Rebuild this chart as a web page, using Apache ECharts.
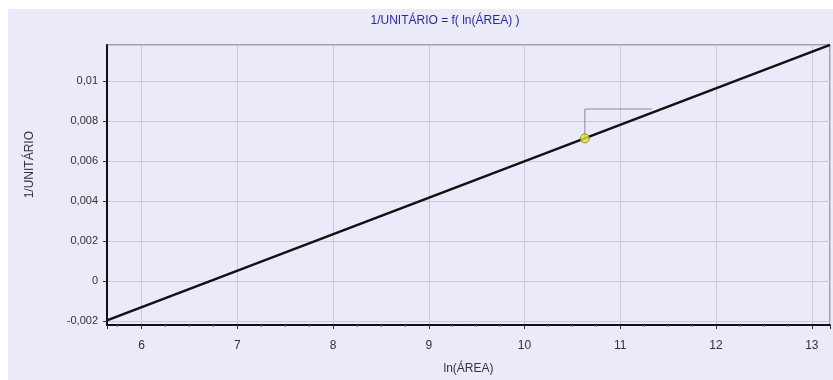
<!DOCTYPE html>
<html>
<head>
<meta charset="utf-8">
<script src="https://cdn.jsdelivr.net/npm/echarts@6/dist/echarts.min.js"></script>
<style>
  html, body { margin: 0; padding: 0; background: #ffffff; }
  #chart { position: absolute; left: 8px; top: 9px; width: 825px; height: 371px; }
</style>
</head>
<body>
<div id="chart"></div>
<script>
// Fitted relation 1/UNITÁRIO versus ln(ÁREA)
const lnArea = [5.64, 13.19];
const invUnit = [-0.00197, 0.01181];

// Highlighted observation and its leader bracket
const pointX = [10.63];
const pointY = [0.00713];
const bracketX = [10.63, 10.63, 11.33];
const bracketY = [0.00713, 0.0086, 0.0086];

const xMin = 5.64, xMax = 13.19;
const yMin = -0.0022, yMax = 0.0118;

const fmt = v => {
  if (Math.abs(v) < 1e-12) return '0';
  return String(+v.toFixed(4)).replace('.', ',');
};

const zip = (a, b) => a.map((v, i) => [v, b[i]]);

const chart = echarts.init(document.getElementById('chart'));
const font = '"Liberation Sans Narrow", "Liberation Sans", Arial, sans-serif';

chart.setOption({
  backgroundColor: '#eaeaf8',
  animation: false,
  textStyle: { fontFamily: font },
  title: {
    text: '1/UNITÁRIO = f( ln(ÁREA) )',
    left: 432, top: 1, textAlign: 'center',
    textStyle: { fontSize: 12, fontWeight: 'normal', color: '#2a2a9a', fontFamily: font }
  },
  grid: { left: 99, top: 36, right: 3, bottom: 53, show: true, borderColor: '#555', borderWidth: 1, backgroundColor: '#eaeaf8' },
  xAxis: {
    type: 'value', min: xMin, max: xMax, splitNumber: 8,
    name: 'ln(ÁREA)', nameLocation: 'middle', nameGap: 38,
    nameTextStyle: { fontSize: 12, color: '#333', fontFamily: font },
    axisLine: { onZero: false, lineStyle: { color: '#111', width: 2 } },
    axisTick: { show: true, length: 4, lineStyle: { color: '#333' } },
    minorTick: { show: true, splitNumber: 4, length: 2, lineStyle: { color: '#666' } },
    axisLabel: { fontSize: 12, color: '#333', margin: 15, showMinLabel: false, showMaxLabel: false,
                 formatter: v => String(v) },
    splitLine: { show: true, lineStyle: { color: '#c9c9d6', width: 1 } }
  },
  yAxis: {
    type: 'value', min: yMin, max: yMax, splitNumber: 7,
    axisLine: { onZero: false, lineStyle: { color: '#111', width: 2 } },
    axisTick: { show: true, length: 4, lineStyle: { color: '#333' } },
    axisLabel: { fontSize: 11, color: '#333', margin: 9, showMinLabel: false, showMaxLabel: false, formatter: fmt },
    splitLine: { show: true, lineStyle: { color: '#c9c9d6', width: 1 } }
  },
  graphic: [{
    type: 'text', left: 16, top: 122, rotation: Math.PI / 2,
    style: { text: '1/UNITÁRIO', fontSize: 12, fill: '#333', fontFamily: font }
  }],
  series: [
    {
      type: 'line', data: zip(bracketX, bracketY), symbol: 'none',
      lineStyle: { color: '#8a8a9a', width: 1 }, z: 2
    },
    {
      type: 'line', data: zip(lnArea, invUnit), symbol: 'none',
      lineStyle: { color: '#111', width: 2.5 }, z: 3
    },
    {
      type: 'scatter', data: zip(pointX, pointY), symbol: 'circle', symbolSize: 9,
      itemStyle: { color: '#e6e63a', borderColor: '#7a7a20', borderWidth: 1 }, z: 4
    }
  ]
});
</script>
</body>
</html>
